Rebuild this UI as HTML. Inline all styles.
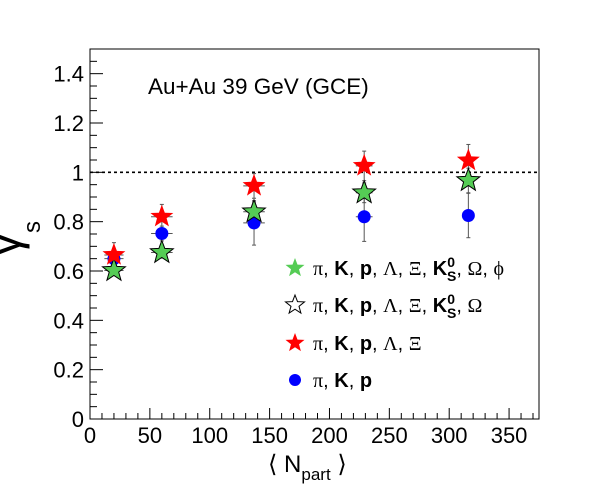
<!DOCTYPE html>
<html><head><meta charset="utf-8"><style>
body{margin:0;background:#fff;}
svg{font-family:"Liberation Sans",sans-serif;}
.g{font-family:"Liberation Serif",serif;}
</style></head><body>
<svg id="c" width="600" height="494" xmlns="http://www.w3.org/2000/svg">
<rect x="0" y="0" width="600" height="494" fill="#fff"/>
<g id="axes"></g>
<g id="marks"></g>
<text x="148" y="94" font-size="22.5">Au+Au 39 GeV (GCE)</text>
<text x="268" y="472" font-size="24">⟨ N<tspan font-size="17" dy="8">part</tspan><tspan dy="-8"> ⟩</tspan></text>
<text transform="translate(20,256) rotate(-90)" font-size="46">γ<tspan font-size="24" dy="20">s</tspan></text>
<g id="legend" font-size="20"></g>
</svg>
<script>
const npart=[20,60,137,229,316];
const nerr=[8,9,9,7,0];
const gAll=[0.602,0.675,0.84,0.917,0.967];
const gAllErr=[0.02,0.02,0.04,0.04,0.05];
const rLX=[0.665,0.82,0.945,1.026,1.048];
const rLXErr=[0.05,0.05,0.05,0.06,0.065];
const bPKP=[0.65,0.752,0.795,0.82,0.825];
const bPKPErr=[0.03,0.03,0.09,0.1,0.09];
const xTicks=[0,50,100,150,200,250,300,350];
const yTicks=[0,0.2,0.4,0.6,0.8,1,1.2,1.4];
const X0=90,X1=539,Y0=419,Y1=49,XMAX=375,YMAX=1.5;
const sx=v=>X0+v/XMAX*(X1-X0), sy=v=>Y0-v/YMAX*(Y0-Y1);
const NS="http://www.w3.org/2000/svg";
function mk(t,a,p){const e=document.createElementNS(NS,t);for(const k in a)e.setAttribute(k,a[k]);p.appendChild(e);return e;}
const ax=document.getElementById('axes');
const fr=mk('rect',{x:X0,y:Y1,width:X1-X0,height:Y0-Y1,fill:'none',stroke:'#000','stroke-width':1},ax);


for(let v=0;v<=XMAX;v+=10){const big=v%50===0;mk('line',{x1:sx(v),x2:sx(v),y1:Y0,y2:Y0-(big?11:6),stroke:'#000'},ax);}
for(let v=0;v<=YMAX+1e-9;v+=0.05){const big=Math.abs(v*5-Math.round(v*5))<1e-6;mk('line',{x1:X0,x2:X0+(big?13:7),y1:sy(v),y2:sy(v),stroke:'#000'},ax);}
xTicks.forEach(v=>{const t=mk('text',{x:sx(v),y:Y0+24,'font-size':22,'text-anchor':'middle'},ax);t.textContent=v;

});
yTicks.forEach(v=>{const t=mk('text',{x:X0-6,y:sy(v)+8,'font-size':22,'text-anchor':'end'},ax);t.textContent=v;

});
const ref=mk('line',{x1:X0,x2:X1,y1:sy(1),y2:sy(1),stroke:'#000','stroke-width':1.6,'stroke-dasharray':'3,3'},ax);


function starPts(cx,cy,R){const r=R*0.42;let p=[];for(let i=0;i<10;i++){const a=-Math.PI/2+i*Math.PI/5,rr=i%2?r:R;p.push((cx+rr*Math.cos(a)).toFixed(1)+','+(cy+rr*Math.sin(a)).toFixed(1));}return p.join(' ');}
const mg=document.getElementById('marks');
function errs(vals,errs_){vals.forEach((v,i)=>{const x=sx(npart[i]),y=sy(v);
mk('line',{x1:x,x2:x,y1:sy(v+errs_[i]),y2:sy(v-errs_[i]),stroke:'#555'},mg);
mk('line',{x1:x-2,x2:x+2,y1:sy(v+errs_[i]),y2:sy(v+errs_[i]),stroke:'#555'},mg);
mk('line',{x1:x-2,x2:x+2,y1:sy(v-errs_[i]),y2:sy(v-errs_[i]),stroke:'#555'},mg);
if(nerr[i]>0){mk('line',{x1:sx(npart[i]-nerr[i]),x2:sx(npart[i]+nerr[i]),y1:y,y2:y,stroke:'#555'},mg);}});}
errs(bPKP,bPKPErr);errs(gAll,gAllErr);errs(rLX,rLXErr);
bPKP.forEach((v,i)=>{const c=mk('circle',{cx:sx(npart[i]),cy:sy(v),r:6.5,fill:'#0000ff'},mg);

});
gAll.forEach((v,i)=>{const s=mk('polygon',{points:starPts(sx(npart[i]),sy(v),12),fill:'#55cc55',stroke:'#000','stroke-width':1},mg);

});
rLX.forEach((v,i)=>{const s=mk('polygon',{points:starPts(sx(npart[i]),sy(v),12),fill:'#ff0000'},mg);

});
const lg=document.getElementById('legend');
lg.innerHTML=`
<g><polygon points="${starPts(295,268,10)}" fill="#55cc55"/>
<text x="313" y="275"><tspan class="g">π</tspan>, <tspan font-weight="bold">K</tspan>, <tspan font-weight="bold">p</tspan>, <tspan class="g">Λ</tspan>, <tspan class="g">Ξ</tspan>, <tspan font-weight="bold">K</tspan><tspan font-size="14" font-weight="bold" dy="-8">0</tspan><tspan font-size="14" font-weight="bold" dx="-8" dy="14">S</tspan><tspan dy="-6">, </tspan><tspan class="g">Ω</tspan>, <tspan class="g">ϕ</tspan></text></g>
<g><polygon points="${starPts(295,305,10)}" fill="none" stroke="#000"/>
<text x="313" y="312"><tspan class="g">π</tspan>, <tspan font-weight="bold">K</tspan>, <tspan font-weight="bold">p</tspan>, <tspan class="g">Λ</tspan>, <tspan class="g">Ξ</tspan>, <tspan font-weight="bold">K</tspan><tspan font-size="14" font-weight="bold" dy="-8">0</tspan><tspan font-size="14" font-weight="bold" dx="-8" dy="14">S</tspan><tspan dy="-6">,  </tspan><tspan class="g">Ω</tspan></text></g>
<g><polygon points="${starPts(295,343,10)}" fill="#ff0000"/>
<text x="313" y="350"><tspan class="g">π</tspan>, <tspan font-weight="bold">K</tspan>, <tspan font-weight="bold">p</tspan>, <tspan class="g">Λ</tspan>, <tspan class="g">Ξ</tspan></text></g>
<g><circle cx="295" cy="380" r="6" fill="#0000ff"/>
<text x="313" y="387"><tspan class="g">π</tspan>, <tspan font-weight="bold">K</tspan>, <tspan font-weight="bold">p</tspan></text></g>`;
</script>
</body></html>
